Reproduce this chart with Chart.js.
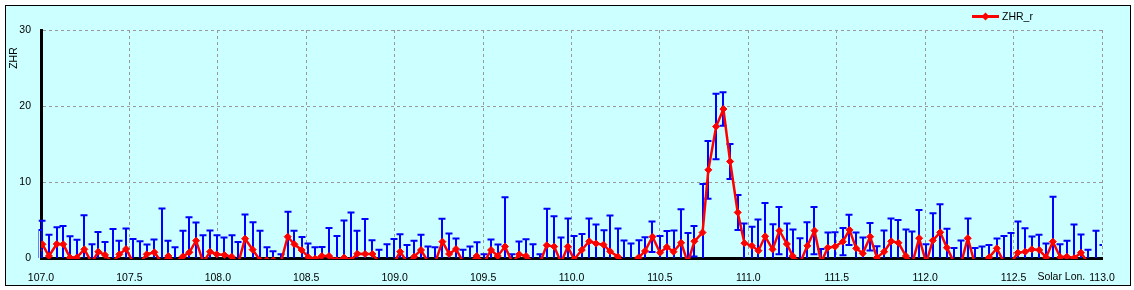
<!DOCTYPE html>
<html>
<head>
<meta charset="utf-8">
<script src="https://cdn.jsdelivr.net/npm/chart.js@4"></script>
<style>
  html, body { margin: 0; padding: 0; background: #fff; }
  #wrap { width: 1134px; height: 290px; }
</style>
</head>
<body>
<div id="wrap"><canvas id="zhrChart" width="1134" height="290"></canvas></div>
<script>
// solar longitude of each point (deg)
const solarLon = [
  106.985, 107.008, 107.045, 107.089, 107.126, 107.164, 107.202, 107.245, 107.287, 107.324,
  107.362, 107.405, 107.443, 107.481, 107.522, 107.560, 107.598, 107.641, 107.683, 107.720,
  107.758, 107.801, 107.839, 107.877, 107.918, 107.956, 107.994, 108.037, 108.078, 108.116,
  108.154, 108.197, 108.239, 108.276, 108.314, 108.356, 108.395, 108.433, 108.474, 108.512,
  108.550, 108.588, 108.629, 108.672, 108.714, 108.752, 108.789, 108.833, 108.874, 108.914,
  108.955, 108.997, 109.031, 109.072, 109.110, 109.149, 109.191, 109.229, 109.270, 109.308,
  109.347, 109.389, 109.426, 109.464, 109.506, 109.545, 109.583, 109.624, 109.666, 109.704,
  109.743, 109.785, 109.822, 109.860, 109.902, 109.941, 109.979, 110.015, 110.058, 110.100,
  110.139, 110.181, 110.218, 110.262, 110.299, 110.337, 110.379, 110.416, 110.458, 110.501,
  110.539, 110.577, 110.620, 110.658, 110.695, 110.741, 110.774, 110.818, 110.859, 110.897,
  110.940, 110.978, 111.020, 111.057, 111.095, 111.137, 111.176, 111.218, 111.251, 111.293,
  111.334, 111.374, 111.412, 111.449, 111.491, 111.534, 111.572, 111.610, 111.647, 111.689,
  111.727, 111.768, 111.808, 111.849, 111.891, 111.928, 111.966, 112.006, 112.043, 112.085,
  112.123, 112.164, 112.204, 112.241, 112.279, 112.320, 112.362, 112.405, 112.447, 112.486,
  112.524, 112.566, 112.603, 112.645, 112.684, 112.722, 112.764, 112.801, 112.843, 112.881,
  112.920, 112.966, 113.003
];

// ZHR_r values
const zhrValues = [
  1.0, 1.8, 0.26, 1.84, 1.8, 0.05, 0.05, 1.14, -0.6, 0.83,
  0.4, -0.6, 0.48, 1.18, -0.6, -0.6, 0.48, 0.75, -0.6, 0.26,
  -0.6, 0.18, 0.75, 2.28, -0.6, 0.83, 0.48, 0.4, 0.18, -0.6,
  2.54, 1.1, -0.3, -0.3, -0.3, -0.6, 2.8, 1.8, 1.05, 0.1,
  -0.1, 0.26, 0.26, -0.3, 0.05, -0.3, 0.57, 0.53, 0.53, -0.6,
  -0.6, -0.6, 0.83, -0.6, 0.18, 1.05, -0.6, -0.6, 2.15, 0.53,
  1.18, -0.6, -0.6, 0.26, -0.6, 1.05, 0.26, 1.5, -0.6, 0.48,
  0.26, -0.6, -0.6, 1.67, 1.5, -0.6, 1.5, -0.2, 1.05, 2.2,
  1.9, 1.75, 0.88, 0.18, -0.6, -0.6, 0.05, 0.92, 2.8, 0.7,
  1.45, 0.83, 2.0, -0.6, 2.2, 3.35, 11.6, 17.3, 19.6, 12.7,
  6.0, 1.95, 1.6, 0.96, 2.85, 1.14, 3.6, 1.84, 0.26, -0.6,
  1.6, 3.6, -0.6, 1.36, 1.5, 2.15, 3.7, 1.27, 0.6, 2.8,
  0.05, 0.83, 2.2, 2.0, 0.26, -0.6, 2.6, -0.6, 2.3, 3.38,
  1.36, -0.6, -0.6, 2.6, -0.6, -0.6, 0.1, 1.27, -0.6, -0.6,
  0.7, 0.83, 1.14, 1.05, 0.1, 2.15, 0.1, 0.18, 0.0, 0.7,
  -0.6, -0.6, -0.6
];

// +/- error of each value
const zhrErrors = [
  2.7, 3.1, 2.8, 2.2, 2.4, 2.8, 2.35, 4.5, 2.4, 2.6,
  1.7, 4.4, 1.8, 2.7, 3.1, 2.8, 1.3, 1.7, 7.1, 2.0,
  2.0, 3.4, 4.6, 2.4, 3.6, 2.8, 2.5, 2.3, 2.8, 2.7,
  3.2, 3.6, 3.9, 1.7, 1.2, 1.1, 3.3, 1.8, 1.7, 1.8,
  1.5, 1.2, 3.7, 3.2, 4.9, 6.3, 3.0, 4.6, 1.8, 1.7,
  2.4, 3.1, 2.3, 2.3, 2.1, 2.0, 2.1, 2.0, 3.0, 2.7,
  1.4, 1.7, 2.1, 1.8, 1.1, 1.4, 1.5, 6.5, 1.1, 1.7,
  2.2, 2.4, 1.1, 4.8, 4.0, 3.3, 3.7, 3.1, 2.1, 3.0,
  2.5, 1.9, 4.7, 3.7, 2.9, 2.5, 2.3, 1.8, 2.0, 2.2,
  2.1, 2.8, 4.4, 3.9, 2.0, 6.4, 3.8, 4.3, 2.2, 2.3,
  2.3, 2.6, 2.5, 4.1, 4.4, 3.3, 3.1, 2.7, 3.5, 3.2,
  3.1, 3.1, 1.8, 2.0, 1.9, 1.8, 2.0, 2.1, 2.1, 1.8,
  1.5, 2.8, 3.0, 3.0, 3.5, 4.1, 3.7, 2.4, 3.6, 3.7,
  2.5, 1.9, 2.9, 2.6, 1.9, 2.1, 1.6, 1.3, 3.5, 3.9,
  4.1, 3.1, 1.7, 2.0, 1.8, 5.9, 1.7, 2.1, 4.4, 2.4,
  1.7, 4.2, 2.3
];

const xTickValues = [107.0, 107.5, 108.0, 108.5, 109.0, 109.5, 110.0, 110.5, 111.0, 111.5, 112.0, 112.5, 113.0];
const yTickValues = [0, 10, 20, 30];
const seriesName = 'ZHR_r';
const yTitle = 'ZHR';
const xTitle = 'Solar Lon.';

const FONT = { family: "'Liberation Sans', Arial, sans-serif", size: 10.5 };
const X_LABEL_PAD = 14;

// cyan panel with black frame
const panelPlugin = {
  id: 'panel',
  beforeDraw(chart) {
    const ctx = chart.ctx;
    ctx.save();
    ctx.fillStyle = '#fff';
    ctx.fillRect(0, 0, chart.width, chart.height);
    ctx.fillStyle = '#ccffff';
    ctx.fillRect(5, 5, 1126, 281);
    ctx.strokeStyle = '#000';
    ctx.lineWidth = 1;
    ctx.strokeRect(5.5, 5.5, 1125, 280);
    ctx.restore();
  }
};

// blue error bars behind the line
const errorBarPlugin = {
  id: 'errorBars',
  beforeDatasetsDraw(chart) {
    const { ctx, chartArea, scales: { x, y } } = chart;
    ctx.save();
    ctx.beginPath();
    ctx.rect(chartArea.left - 2.5, chartArea.top - 5, chartArea.right - chartArea.left + 2.5, chartArea.bottom - chartArea.top + 5);
    ctx.clip();
    ctx.strokeStyle = '#0000ff';
    ctx.lineWidth = 2;
    solarLon.forEach((lon, i) => {
      const px = Math.round(x.getPixelForValue(lon));
      const top = y.getPixelForValue(zhrValues[i] + zhrErrors[i]);
      const bot = y.getPixelForValue(zhrValues[i] - zhrErrors[i]);
      ctx.beginPath();
      ctx.moveTo(px, Math.min(bot, chartArea.bottom + 2));
      ctx.lineTo(px, top);
      ctx.moveTo(px - 3.5, top);
      ctx.lineTo(px + 3.5, top);
      if (bot < chartArea.bottom - 1) {
        ctx.moveTo(px - 3.5, bot);
        ctx.lineTo(px + 3.5, bot);
      }
      ctx.stroke();
    });
    ctx.restore();
  }
};

// legend, axis titles
const labelPlugin = {
  id: 'labels',
  afterDraw(chart) {
    const { ctx, scales: { x } } = chart;
    ctx.save();
    ctx.font = FONT.size + 'px ' + FONT.family;
    ctx.fillStyle = '#000';

    // legend
    ctx.strokeStyle = '#ff0000';
    ctx.lineWidth = 3;
    ctx.beginPath();
    ctx.moveTo(972, 16.5);
    ctx.lineTo(999, 16.5);
    ctx.stroke();
    ctx.fillStyle = '#ff0000';
    ctx.beginPath();
    ctx.moveTo(985.5, 12.5);
    ctx.lineTo(989.5, 16.5);
    ctx.lineTo(985.5, 20.5);
    ctx.lineTo(981.5, 16.5);
    ctx.closePath();
    ctx.fill();
    ctx.fillStyle = '#000';
    ctx.textBaseline = 'middle';
    ctx.textAlign = 'left';
    ctx.fillText(seriesName, 1002, 17);

    // y title
    ctx.save();
    ctx.translate(14, 58);
    ctx.rotate(-Math.PI / 2);
    ctx.textAlign = 'center';
    ctx.fillText(yTitle, 0, 0);
    ctx.restore();

    // x title next to last tick label
    const lastX = x.getPixelForValue(xTickValues[xTickValues.length - 1]);
    const w = ctx.measureText('113.0').width;
    ctx.textAlign = 'right';
    ctx.textBaseline = 'top';
    ctx.fillText(xTitle, lastX - w / 2 - 4, x.top + X_LABEL_PAD);
    ctx.restore();
  }
};

const ctx = document.getElementById('zhrChart').getContext('2d');
new Chart(ctx, {
  type: 'line',
  data: {
    datasets: [{
      label: seriesName,
      data: solarLon.map((lon, i) => ({ x: lon, y: zhrValues[i] })),
      borderColor: '#ff0000',
      backgroundColor: '#ff0000',
      borderWidth: 2.5,
      tension: 0,
      pointStyle: 'rectRot',
      pointRadius: 3.5,
      pointBorderWidth: 1,
      pointBackgroundColor: '#ff0000',
      pointBorderColor: '#ff0000',
      clip: { left: 0, right: 0, top: false, bottom: 1 }
    }]
  },
  options: {
    responsive: false,
    animation: false,
    devicePixelRatio: 1,
    layout: { padding: { left: 0, right: 32, top: 30, bottom: 0 } },
    plugins: {
      legend: { display: false },
      tooltip: { enabled: false }
    },
    scales: {
      x: {
        type: 'linear',
        min: 107,
        max: 113,
        afterBuildTicks: s => { s.ticks = xTickValues.map(v => ({ value: v })); },
        afterFit: s => { s.height = 32; },
        ticks: {
          callback: v => Number(v).toFixed(1),
          font: FONT,
          color: '#000',
          padding: X_LABEL_PAD,
          maxRotation: 0,
          autoSkip: false
        },
        grid: { color: '#999999', lineWidth: 1, drawTicks: false },
        border: { color: '#000', width: 3, dash: [3, 3] }
      },
      y: {
        min: 0,
        max: 30,
        afterBuildTicks: s => { s.ticks = yTickValues.map(v => ({ value: v })); },
        afterFit: s => { s.width = 41; },
        ticks: {
          font: FONT,
          color: '#000',
          padding: 10
        },
        grid: { color: '#999999', lineWidth: 1, drawTicks: false },
        border: { color: '#000', width: 3, dash: [3, 3] }
      }
    }
  },
  plugins: [panelPlugin, errorBarPlugin, labelPlugin]
});
</script>
</body>
</html>
